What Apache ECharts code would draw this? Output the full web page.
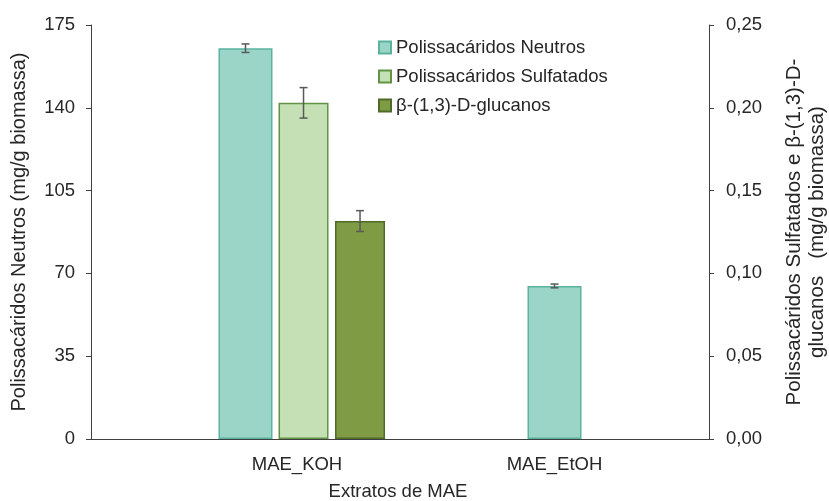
<!DOCTYPE html>
<html><head><meta charset="utf-8">
<script src="https://cdn.jsdelivr.net/npm/echarts@6/dist/echarts.min.js"></script>
<style>html,body{margin:0;padding:0;background:#fff}#c{width:829px;height:501px}</style>
</head><body><div id="c"></div>
<script>
const categories = ['MAE_KOH', 'MAE_EtOH'];
const neutros = [165.2, 64.7];
const neutrosErr = [1.8, 0.8];
const sulfatados = [0.203, null];
const sulfatadosErr = [0.0092, null];
const glucanos = [0.1316, null];
const glucanosErr = [0.0063, null];
const leftTicks = { min: 0, max: 175, interval: 35 };
const rightTicks = { min: 0, max: 0.25, interval: 0.05 };
const names = ['Polissacáridos Neutros', 'Polissacáridos Sulfatados', 'β-(1,3)-D-glucanos'];

// layout (style) constants
const FONT = 'Liberation Sans, Arial, sans-serif';
const FS = 18.5;
const TXT = '#262626';
const wN = 54, wP = 152.7, wS = 50, wG = 50, gapP = 0.13;

// offsets of secondary bars relative to category centre (same formula as echarts)
const total = wP * (1 + gapP) + wS * (1 + gapP) + wG;
const offS = -total / 2 + wP * (1 + gapP) + wS / 2;
const offG = -total / 2 + wP * (1 + gapP) + wS * (1 + gapP) + wG / 2;

function errData(vals, errs) {
  const out = [];
  vals.forEach((v, i) => { if (v != null && errs[i] != null) out.push([i, v, errs[i]]); });
  return out;
}
function errRender(offset) {
  return function (params, api) {
    const i = api.value(0), v = api.value(1), e = api.value(2);
    const hi = api.coord([i, v + e]);
    const lo = api.coord([i, v - e]);
    const x = hi[0] + offset;
    const cap = 4;
    const style = { stroke: '#595959', lineWidth: 1.5 };
    return {
      type: 'group',
      children: [
        { type: 'line', shape: { x1: x, y1: hi[1], x2: x, y2: lo[1] }, style },
        { type: 'line', shape: { x1: x - cap, y1: hi[1], x2: x + cap, y2: hi[1] }, style },
        { type: 'line', shape: { x1: x - cap, y1: lo[1], x2: x + cap, y2: lo[1] }, style }
      ]
    };
  };
}

const chart = echarts.init(document.getElementById('c'), null, { renderer: 'canvas' });
chart.setOption({
  animation: false,
  textStyle: { fontFamily: FONT },
  grid: { left: 91, right: 120, top: 25, bottom: 62, containLabel: false, outerBoundsMode: 'none' },
  legend: {
    data: names,
    orient: 'vertical',
    left: 373, top: 33,
    itemWidth: 12, itemHeight: 12, itemGap: 10,
    textStyle: { fontSize: FS, color: TXT, fontFamily: FONT },
    icon: 'rect'
  },
  xAxis: [
    {
      type: 'category', data: categories,
      axisLine: { lineStyle: { color: '#404040', width: 1 } },
      axisTick: { show: false },
      axisLabel: {
        fontSize: FS, color: TXT, margin: 16, fontFamily: FONT,
        formatter: v => v === 'MAE_KOH' ? '{k|' + v + '}' : v,
        rich: { k: { padding: [0, 0, 0, 103], fontSize: FS, color: TXT, fontFamily: FONT } }
      },
      name: 'Extratos de MAE', nameLocation: 'middle', nameGap: 43,
      nameTextStyle: { fontSize: FS, color: TXT, fontFamily: FONT, padding: [0, 4, 0, 0] }
    },
    { type: 'category', data: categories, show: false }
  ],
  yAxis: [
    {
      type: 'value', min: leftTicks.min, max: leftTicks.max, interval: leftTicks.interval,
      splitLine: { show: false },
      axisLine: { show: true, lineStyle: { color: '#404040', width: 1 } },
      axisTick: { show: true, length: 5, lineStyle: { color: '#404040' } },
      axisLabel: { fontSize: FS, color: TXT, margin: 16, fontFamily: FONT },
      name: 'Polissacáridos Neutros (mg/g biomassa)', nameLocation: 'middle', nameGap: 62,
      nameRotate: 90,
      nameTextStyle: { fontSize: 20, color: TXT, fontFamily: FONT }
    },
    {
      type: 'value', min: rightTicks.min, max: rightTicks.max, interval: rightTicks.interval,
      position: 'right',
      splitLine: { show: false },
      axisLine: { show: true, lineStyle: { color: '#404040', width: 1 } },
      axisTick: { show: true, length: 5, lineStyle: { color: '#404040' } },
      axisLabel: {
        fontSize: FS, color: TXT, margin: 17, fontFamily: FONT,
        formatter: v => v.toFixed(2).replace('.', ',')
      },
      name: 'Polissacáridos Sulfatados e β-(1,3)-D-\nglucanos   (mg/g biomassa)',
      nameLocation: 'middle', nameGap: 74, nameRotate: 90,
      nameTextStyle: { fontSize: 20.5, color: TXT, fontFamily: FONT, lineHeight: 23, align: 'center' }
    }
  ],
  series: [
    {
      name: names[0], type: 'bar', xAxisIndex: 0, yAxisIndex: 0, data: neutros,
      barWidth: wN,
      itemStyle: { color: '#9BD5C8', borderColor: '#5BB39F', borderWidth: 1.5 }
    },
    {
      name: '_spacer', type: 'bar', xAxisIndex: 1, yAxisIndex: 1, data: [],
      barWidth: wP, barGap: (gapP * 100) + '%'
    },
    {
      name: names[1], type: 'bar', xAxisIndex: 1, yAxisIndex: 1, data: sulfatados,
      barWidth: wS, barGap: (gapP * 100) + '%',
      itemStyle: { color: '#C5E0B4', borderColor: '#619345', borderWidth: 1.5 }
    },
    {
      name: names[2], type: 'bar', xAxisIndex: 1, yAxisIndex: 1, data: glucanos,
      barWidth: wG, barGap: (gapP * 100) + '%',
      itemStyle: { color: '#7F9C45', borderColor: '#4E6B2A', borderWidth: 1.5 }
    },
    {
      type: 'custom', xAxisIndex: 0, yAxisIndex: 0, data: errData(neutros, neutrosErr),
      renderItem: errRender(0), z: 10, silent: true
    },
    {
      type: 'custom', xAxisIndex: 1, yAxisIndex: 1, data: errData(sulfatados, sulfatadosErr),
      renderItem: errRender(offS), z: 10, silent: true
    },
    {
      type: 'custom', xAxisIndex: 1, yAxisIndex: 1, data: errData(glucanos, glucanosErr),
      renderItem: errRender(offG), z: 10, silent: true
    }
  ]
});
</script></body></html>
